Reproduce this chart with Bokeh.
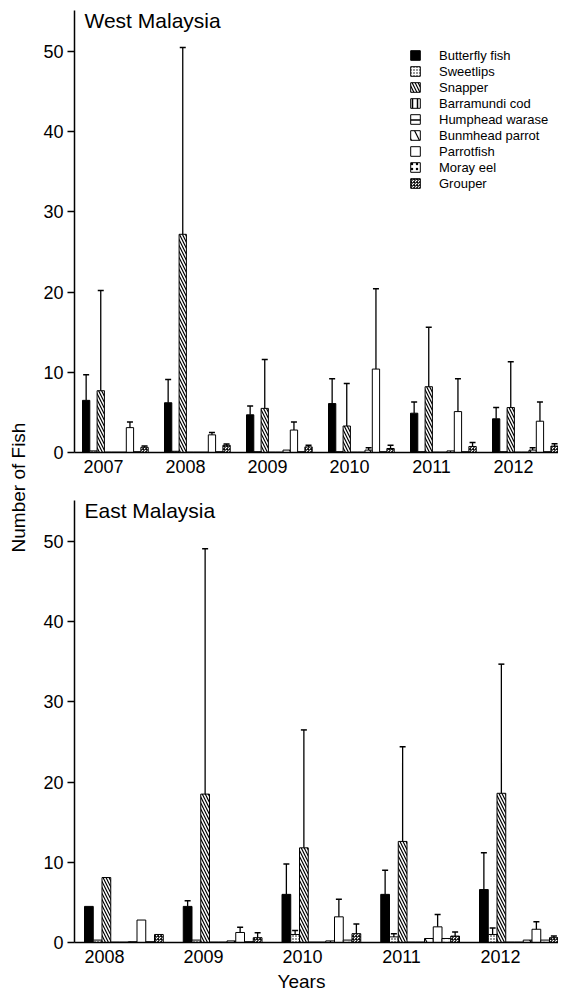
from math import pi
from bokeh.plotting import figure
from bokeh.models import ColumnDataSource, Range1d, FixedTicker, Label, Legend, LegendItem, Title
from bokeh.layouts import row, column
from bokeh.embed import file_html
from bokeh.resources import INLINE

species = ["Butterfly fish", "Sweetlips", "Snapper", "Barramundi cod", "Humphead warase",
           "Bunmhead parrot", "Parrotfish", "Moray eel", "Grouper"]

# ---------------- West Malaysia ----------------
west_years = ["2007", "2008", "2009", "2010", "2011", "2012"]
west_butterfly = [6.5, 6.2, 4.7, 6.1, 4.9, 4.2]
west_butterfly_sd = [3.2, 2.9, 1.1, 3.1, 1.4, 1.4]
west_sweetlips = [0.2, 0.15, 0.1, 0.1, 0.1, 0.1]
west_sweetlips_sd = [0, 0, 0, 0, 0, 0]
west_snapper = [7.7, 27.2, 5.5, 3.3, 8.2, 5.6]
west_snapper_sd = [12.5, 23.3, 6.1, 5.3, 7.4, 5.7]
west_barramundi = [0.05, 0.05, 0.05, 0.05, 0.05, 0.05]
west_barramundi_sd = [0, 0, 0, 0, 0, 0]
west_humphead = [0.05, 0.05, 0.05, 0.05, 0.05, 0.05]
west_humphead_sd = [0, 0, 0, 0, 0, 0]
west_bunmhead = [0.05, 0.05, 0.3, 0.3, 0.2, 0.3]
west_bunmhead_sd = [0, 0, 0, 0.3, 0, 0.3]
west_parrotfish = [3.1, 2.2, 2.8, 10.4, 5.1, 3.9]
west_parrotfish_sd = [0.7, 0.3, 1.0, 10.0, 4.1, 2.4]
west_moray = [0.1, 0.1, 0.1, 0.1, 0.1, 0.1]
west_moray_sd = [0, 0, 0, 0, 0, 0]
west_grouper = [0.65, 0.9, 0.7, 0.5, 0.75, 0.8]
west_grouper_sd = [0.15, 0.15, 0.2, 0.4, 0.5, 0.3]

# ---------------- East Malaysia ----------------
east_years = ["2008", "2009", "2010", "2011", "2012"]
east_butterfly = [4.5, 4.5, 6.0, 6.0, 6.6]
east_butterfly_sd = [0, 0.7, 3.8, 3.0, 4.6]
east_sweetlips = [0.3, 0.3, 1.0, 0.7, 1.0]
east_sweetlips_sd = [0, 0, 0.5, 0.4, 0.8]
east_snapper = [8.1, 18.5, 11.8, 12.6, 18.6]
east_snapper_sd = [0, 30.6, 14.7, 11.8, 16.1]
east_barramundi = [0.05, 0.05, 0.05, 0.05, 0.05]
east_barramundi_sd = [0, 0, 0, 0, 0]
east_humphead = [0.05, 0.05, 0.05, 0.05, 0.05]
east_humphead_sd = [0, 0, 0, 0, 0]
east_bunmhead = [0.1, 0.2, 0.2, 0.5, 0.3]
east_bunmhead_sd = [0, 0, 0, 0, 0]
east_parrotfish = [2.8, 1.25, 3.2, 1.95, 1.65]
east_parrotfish_sd = [0, 0.65, 2.2, 1.55, 0.95]
east_moray = [0.1, 0.1, 0.3, 0.5, 0.3]
east_moray_sd = [0, 0, 0, 0, 0]
east_grouper = [1.0, 0.6, 1.1, 0.8, 0.6]
east_grouper_sd = [0, 0.6, 1.2, 0.5, 0.2]

y_ticks = [0, 10, 20, 30, 40, 50]

west_means = [west_butterfly, west_sweetlips, west_snapper, west_barramundi, west_humphead,
              west_bunmhead, west_parrotfish, west_moray, west_grouper]
west_sds = [west_butterfly_sd, west_sweetlips_sd, west_snapper_sd, west_barramundi_sd,
            west_humphead_sd, west_bunmhead_sd, west_parrotfish_sd, west_moray_sd, west_grouper_sd]
east_means = [east_butterfly, east_sweetlips, east_snapper, east_barramundi, east_humphead,
              east_bunmhead, east_parrotfish, east_moray, east_grouper]
east_sds = [east_butterfly_sd, east_sweetlips_sd, east_snapper_sd, east_barramundi_sd,
            east_humphead_sd, east_bunmhead_sd, east_parrotfish_sd, east_moray_sd, east_grouper_sd]

# styles (fill / hatch) per species
styles = [
    dict(fill_color="black", hatch_pattern=None),
    dict(fill_color="white", hatch_pattern="dot", hatch_scale=3, hatch_weight=0.9),
    dict(fill_color="white", hatch_pattern="left_diagonal_line", hatch_scale=6, hatch_weight=1.2),
    dict(fill_color="white", hatch_pattern="vertical_line", hatch_scale=5, hatch_weight=1.5),
    dict(fill_color="white", hatch_pattern="horizontal_line", hatch_scale=12, hatch_weight=1.5),
    dict(fill_color="white", hatch_pattern="left_diagonal_line", hatch_scale=16, hatch_weight=1.2),
    dict(fill_color="white", hatch_pattern=None),
    dict(fill_color="white", hatch_pattern="dot", hatch_scale=5, hatch_weight=0.8),
    dict(fill_color="white", hatch_pattern="criss_cross", hatch_scale=3, hatch_weight=0.7),
]

FONT = "Liberation Sans"
X_LEFT, X_RIGHT = 74, 558
Y_MAX = 55.1
LEFT_W = 36


def make_panel(years, means, sds, start, gap, slot, label_off, title, height,
               border_top, border_bottom, with_legend=False):
    p = figure(width=X_RIGHT - X_LEFT + 38, height=height,
               x_range=Range1d(X_LEFT, X_RIGHT), y_range=Range1d(0, Y_MAX),
               toolbar_location=None, output_backend="svg",
               min_border_left=38, min_border_right=0,
               min_border_top=border_top, min_border_bottom=border_bottom)
    p.xgrid.visible = False
    p.ygrid.visible = False
    p.outline_line_color = None
    p.background_fill_color = "white"

    renderers = []
    for k, (vals, sd) in enumerate(zip(means, sds)):
        xs = [start + g * gap + k * slot + slot / 2 for g in range(len(years))]
        src = ColumnDataSource(dict(x=xs, top=vals))
        st = dict(styles[k])
        hp = st.pop("hatch_pattern")
        kw = dict(fill_color=st.pop("fill_color"), line_color="black", line_width=1)
        if hp is not None:
            kw.update(hatch_pattern=hp, hatch_color="black", **st)
        r = p.vbar(x="x", top="top", bottom=0, width=slot, source=src, **kw)
        renderers.append(r)
        ex = [x for x, s in zip(xs, sd) if s > 0]
        ey0 = [v for v, s in zip(vals, sd) if s > 0]
        ey1 = [v + s for v, s in zip(vals, sd) if s > 0]
        if ex:
            esrc = ColumnDataSource(dict(x=ex, y0=ey0, y1=ey1,
                                         xl=[x - 3 for x in ex], xr=[x + 3 for x in ex]))
            p.segment(x0="x", y0="y0", x1="x", y1="y1", source=esrc,
                      line_color="black", line_width=1.3)
            p.segment(x0="xl", y0="y1", x1="xr", y1="y1", source=esrc,
                      line_color="black", line_width=1.5)

    ticks = [int(round(start + g * gap + label_off)) for g in range(len(years))]
    p.xaxis.ticker = FixedTicker(ticks=ticks)
    p.xaxis.major_label_overrides = {t: y for t, y in zip(ticks, years)}
    p.xaxis.major_tick_out = 0
    p.xaxis.major_tick_in = 0
    p.xaxis.minor_tick_out = 0
    p.xaxis.minor_tick_in = 0
    p.xaxis.major_label_standoff = 7

    p.yaxis.ticker = FixedTicker(ticks=y_ticks)
    p.yaxis.major_tick_out = 7
    p.yaxis.major_tick_in = 0
    p.yaxis.minor_tick_out = 0
    p.yaxis.minor_tick_in = 0
    p.yaxis.major_label_standoff = 4

    for ax in (p.xaxis, p.yaxis):
        ax.axis_line_width = 1.5
        ax.axis_line_color = "black"
        ax.major_tick_line_width = 1.5
        ax.major_tick_line_color = "black"
        ax.major_label_text_font = FONT
        ax.major_label_text_font_size = "18px"
        ax.major_label_text_color = "black"

    p.add_layout(Label(x=84, y=53.8, text=title, text_font=FONT, text_font_size="21px",
                       text_baseline="middle", text_align="left", text_color="black"))

    if with_legend:
        items = [LegendItem(label=name, renderers=[r]) for name, r in zip(species, renderers)]
        leg = Legend(items=items, location=(335, 261), padding=0, margin=0, spacing=0,
                     glyph_width=12, glyph_height=12, label_height=16, label_standoff=18,
                     label_text_font=FONT, label_text_font_size="13px",
                     label_text_color="black", border_line_color=None,
                     background_fill_alpha=0)
        p.add_layout(leg)
    return p


TOP_H = 490
BOT_H = 504
top = make_panel(west_years, west_means, west_sds, start=82, gap=82.0, slot=7.3,
                 label_off=21, title="West Malaysia", height=TOP_H,
                 border_top=10, border_bottom=38, with_legend=True)
bottom = make_panel(east_years, east_means, east_sds, start=84, gap=98.75, slot=8.75,
                    label_off=20.5, title="East Malaysia", height=BOT_H,
                    border_top=10, border_bottom=52)
bottom.add_layout(Title(text="Years", align="left", offset=203, standoff=6,
                        text_font=FONT, text_font_size="19px", text_font_style="normal",
                        text_color="black"), "below")

H = TOP_H + BOT_H
lab = figure(width=LEFT_W, height=H, x_range=Range1d(0, LEFT_W), y_range=Range1d(0, H),
             toolbar_location=None, output_backend="svg", x_axis_type=None, y_axis_type=None,
             min_border=0, min_border_left=0, min_border_right=0, min_border_top=0,
             min_border_bottom=0)
lab.outline_line_color = None
lab.add_layout(Label(x=18, y=H - 487, text="Number of Fish", angle=pi / 2, text_font=FONT,
                     text_font_size="19px", text_align="center", text_baseline="middle",
                     text_color="black"))

layout = row(lab, column(top, bottom))
open("out.html", "w").write(file_html(layout, INLINE))
